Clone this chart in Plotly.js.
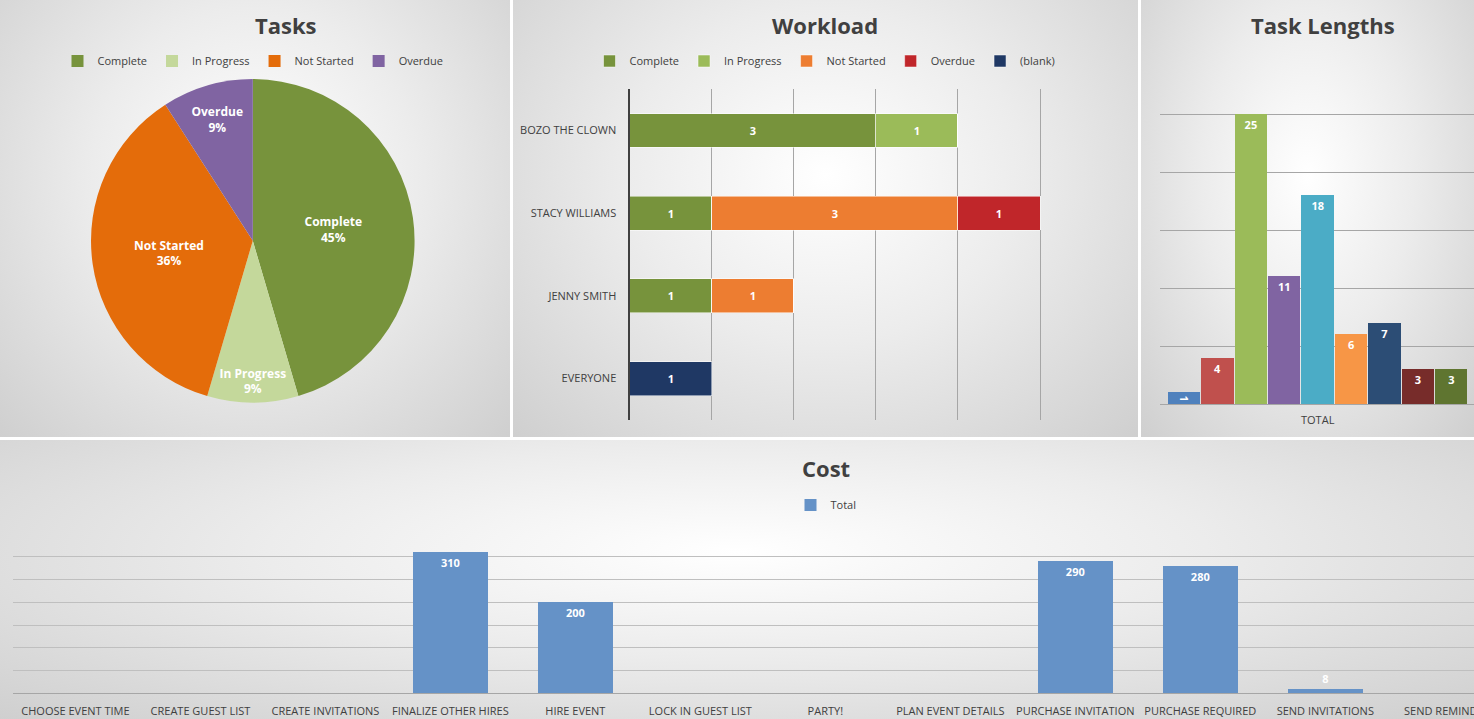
<!DOCTYPE html>
<html><head><meta charset="utf-8">
<script src="https://cdn.plot.ly/plotly-3.0.1.min.js"></script>
<style>
body{margin:0;background:#fff;width:1474px;height:719px;overflow:hidden;position:relative;font-family:"Open Sans",sans-serif}
.p{position:absolute;background:radial-gradient(ellipse at 50% 40%,#ffffff 0%,#ececec 45%,#cfcfcf 100%)}
#chart{position:absolute;left:0;top:0;width:1474px;height:719px}
</style></head><body>
<div class="p" style="left:0;top:0;width:510px;height:437px"></div>
<div class="p" style="left:513px;top:0;width:625px;height:437px"></div>
<div class="p" style="left:1141px;top:0;width:333px;height:437px"></div>
<div class="p" style="left:0;top:440px;width:1474px;height:279px"></div>
<div id="chart"></div>
<script>
// Tasks pie
const taskStatus = ["Complete","In Progress","Not Started","Overdue"];
const taskCounts = [5,1,4,1];
const taskColors = ["#77933C","#C4D89B","#E46C0A","#8064A2"];
// Workload
const people = ["BOZO THE CLOWN","STACY WILLIAMS","JENNY SMITH","EVERYONE"];
const wlSeries = ["Complete","In Progress","Not Started","Overdue","(blank)"];
const wlValues = [[3,1,1,0],[1,0,0,0],[0,3,1,0],[0,1,0,0],[0,0,0,1]];
const wlColors = ["#77933C","#9BBB59","#ED7D31","#C0262A","#1F3864"];
// Task lengths
const tlValues = [1,4,25,11,18,6,7,3,3];
const tlColors = ["#4F81BD","#C0504D","#9BBB59","#8064A2","#4BACC6","#F79646","#2C4D75","#772C2A","#5F7530"];
// Cost
const costTasks = ["CHOOSE EVENT TIME","CREATE GUEST LIST","CREATE INVITATIONS","FINALIZE OTHER HIRES","HIRE EVENT","LOCK IN GUEST LIST","PARTY!","PLAN EVENT DETAILS","PURCHASE INVITATION","PURCHASE REQUIRED","SEND INVITATIONS","SEND REMINDERS"];
const costValues = [0,0,0,310,200,0,0,0,290,280,8,0];

const txt = "#404040";
const traces = [];
traces.push({type:"pie",labels:taskStatus,values:taskCounts,sort:false,direction:"clockwise",rotation:0,
  marker:{colors:taskColors},textinfo:"label+percent",texttemplate:"<b>%{label}<br>%{percent:.0%}</b>",
  textfont:{color:"#fff",size:12},insidetextorientation:"horizontal",textposition:"inside",
  domain:{x:[0.056,0.287],y:[0.44,0.89]},legend:"legend",hoverinfo:"none"});
wlSeries.forEach((s,i)=>{
  traces.push({type:"bar",orientation:"h",name:s,y:people,x:wlValues[i],width:0.41,
    marker:{color:wlColors[i],line:{color:"#fff",width:0.5}},
    text:wlValues[i].map(v=>v?"<b>"+v+"</b>":""),textposition:"inside",insidetextanchor:"middle",
    textfont:{color:"#fff",size:11},xaxis:"x2",yaxis:"y2",legend:"legend2"});
});
traces.push({type:"bar",x:tlValues.map((v,i)=>i),y:tlValues,width:0.97,marker:{color:tlColors},
  text:tlValues.map(v=>"<b>"+v+"</b>"),textposition:"inside",insidetextanchor:"end",constraintext:"none",
  textfont:{color:"#fff",size:11},cliponaxis:false,xaxis:"x3",yaxis:"y3",showlegend:false});
traces.push({type:"bar",name:"Total",x:costTasks,y:costValues,width:0.6,marker:{color:"#6592C7"},
  text:costValues.map(v=>v?"<b>"+v+"</b>":""),textposition:"auto",insidetextanchor:"end",
  textfont:{color:"#fff",size:11},outsidetextfont:{color:"#fff",size:11},cliponaxis:false,
  xaxis:"x4",yaxis:"y4",legend:"legend3",showlegend:true});

const tf = {family:"Open Sans, sans-serif",size:22,color:txt};
const lg = (x,y)=>({x:x,y:y,xanchor:"center",yanchor:"middle",orientation:"h",bgcolor:"rgba(0,0,0,0)",font:{size:11,color:txt},traceorder:"normal",itemwidth:30});
const ann = (t,x,y)=>({text:"<b>"+t+"</b>",x:x/1474,y:1-y/719,xref:"paper",yref:"paper",yanchor:"middle",showarrow:false,font:tf});
const layout = {
  width:1474,height:719,margin:{l:0,r:0,t:0,b:0},paper_bgcolor:"rgba(0,0,0,0)",plot_bgcolor:"rgba(0,0,0,0)",
  barmode:"stack",font:{family:"Open Sans, sans-serif",color:txt,size:11},
  legend:lg(253/1474,1-61/719),legend2:lg(825/1474,1-61/719),legend3:lg(826/1474,1-505/719),
  xaxis2:{domain:[0.4274,0.7612],range:[0,6],anchor:"y2",showticklabels:false,showgrid:true,gridcolor:"#a6a6a6",zeroline:false,dtick:1},
  yaxis2:{domain:[0.416,0.876],anchor:"x2",autorange:"reversed",showline:true,linecolor:"#404040",linewidth:1.5,ticks:"",ticklabelstandoff:10,tickfont:{size:11,color:txt}},
  xaxis3:{domain:[0.787,1],range:[-0.72,8.68],anchor:"y3",tickvals:[4],ticktext:["TOTAL"],showline:true,linecolor:"#a6a6a6",showgrid:false,ticklabelstandoff:6,tickfont:{size:11,color:txt}},
  yaxis3:{domain:[0.438,0.922],range:[0,30],anchor:"x3",dtick:5,showticklabels:false,gridcolor:"#a6a6a6",zeroline:false},
  xaxis4:{domain:[0.0088,1],range:[-0.5,11.19],anchor:"y4",type:"category",showline:false,tickangle:0,ticklabelstandoff:10,tickfont:{size:11,color:txt}},
  yaxis4:{domain:[0.036,0.257],range:[0,350],anchor:"x4",dtick:50,showticklabels:false,gridcolor:"#bfbfbf",zeroline:true,zerolinecolor:"#a6a6a6"},
  annotations:[ann("Tasks",253,6),ann("Workload",825,6),ann("Task Lengths",1397,6),ann("Cost",826,468)]
};
layout.annotations.slice(0,3).forEach(a=>{a.yanchor="top";a.y=1-8/719;});
Plotly.newPlot("chart",traces,layout,{displayModeBar:false,staticPlot:true});
</script></body></html>
